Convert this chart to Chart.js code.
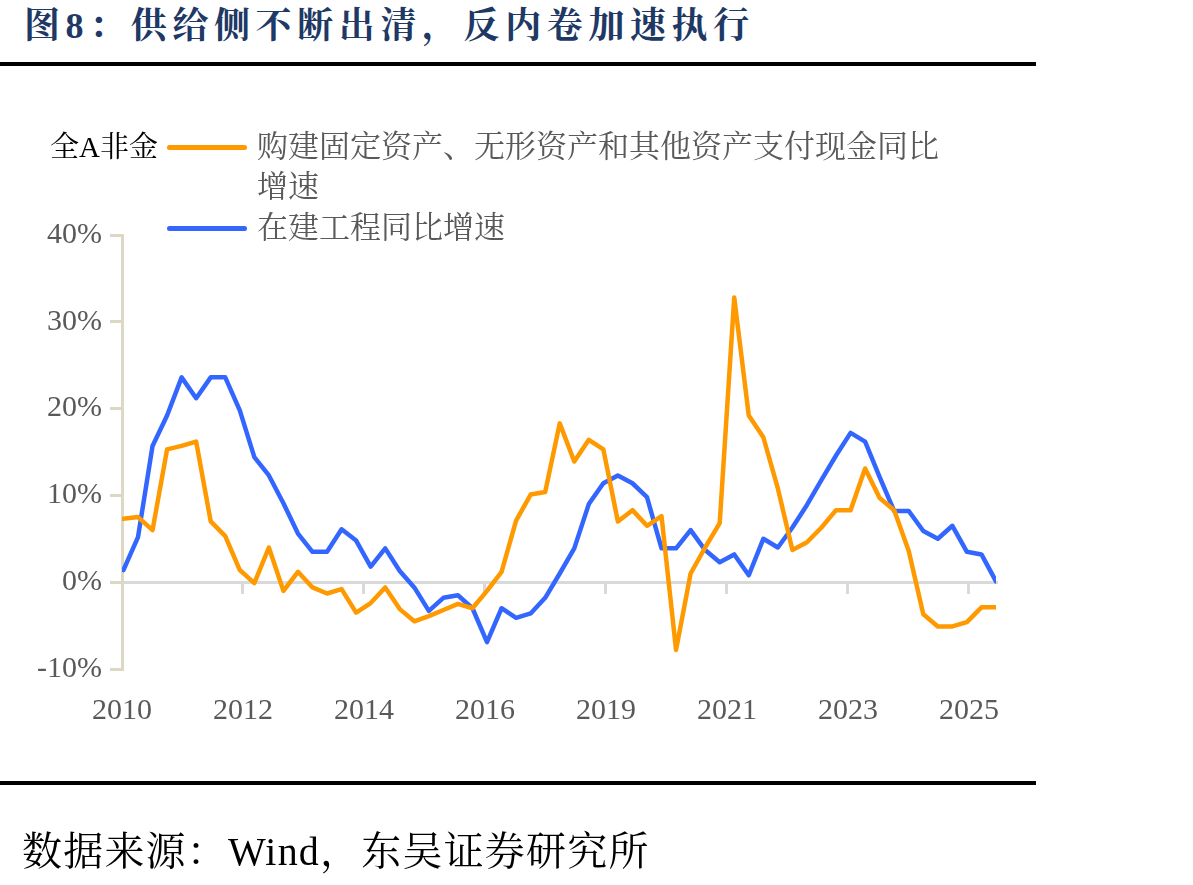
<!DOCTYPE html>
<html>
<head>
<meta charset="utf-8">
<script src="https://cdn.jsdelivr.net/npm/chart.js@4.4.1/dist/chart.umd.min.js"></script>
<style>
  body { margin: 0; background: #fff; width: 1193px; height: 885px; position: relative; overflow: hidden; }
  #chart { position: absolute; left: 0; top: 0; }
  .title { position: absolute; left: 24px; top: 0; line-height: 52px; font-size: 36px; font-weight: bold; color: #203864;
           letter-spacing: 5.6px; white-space: nowrap; font-family: "Liberation Serif", "Noto Serif CJK SC", "Noto Sans CJK SC", serif; }
  .rule { position: absolute; left: 0; width: 1036px; height: 4px; background: #000; }
  .source { position: absolute; left: 22px; top: 830px; line-height: 44px; font-size: 40px; color: #000; letter-spacing: 1.2px;
            white-space: nowrap; font-family: "Liberation Serif", "Noto Serif CJK SC", "Noto Sans CJK SC", serif; }
  .legend { position: absolute; font-family: "Liberation Serif", "Noto Serif CJK SC", "Noto Sans CJK SC", serif; font-size: 31px; line-height: 40px; }
  .group { position: absolute; left: 50px; top: 127px; color: #000; font-size: 29px; white-space: nowrap; }
  .item { position: absolute; left: 167px; width: 785px; color: #595959; }
  .item .swatch { position: absolute; left: 0; top: 18px; width: 80px; height: 5px; border-radius: 3px; }
  .item .text { margin-left: 90px; }
</style>
</head>
<body>
<div class="title">图8：供给侧不断出清，反内卷加速执行</div>
<div class="rule" style="top:62px"></div>
<canvas id="chart" width="1193" height="885"></canvas>
<div class="legend" id="legend"></div>
<div class="rule" style="top:781px"></div>
<div class="source">数据来源：Wind，东吴证券研究所</div>
<script>
// quarterly, 2010Q2 - 2025Q2
const quarters = [
  '2010Q2','2010Q3','2010Q4',
  '2011Q1','2011Q2','2011Q3','2011Q4',
  '2012Q1','2012Q2','2012Q3','2012Q4',
  '2013Q1','2013Q2','2013Q3','2013Q4',
  '2014Q1','2014Q2','2014Q3','2014Q4',
  '2015Q1','2015Q2','2015Q3','2015Q4',
  '2016Q1','2016Q2','2016Q3','2016Q4',
  '2017Q1','2017Q2','2017Q3','2017Q4',
  '2018Q1','2018Q2','2018Q3','2018Q4',
  '2019Q1','2019Q2','2019Q3','2019Q4',
  '2020Q1','2020Q2','2020Q3','2020Q4',
  '2021Q1','2021Q2','2021Q3','2021Q4',
  '2022Q1','2022Q2','2022Q3','2022Q4',
  '2023Q1','2023Q2','2023Q3','2023Q4',
  '2024Q1','2024Q2','2024Q3','2024Q4',
  '2025Q1','2025Q2'
];

// 购建固定资产、无形资产和其他资产支付现金同比增速 (%)
const capexGrowth = [
  7.3, 7.5, 6.0, 15.3, 15.7, 16.2, 7.0, 5.3, 1.4, -0.1,
  4.0, -1.0, 1.2, -0.6, -1.3, -0.8, -3.5, -2.4, -0.6, -3.1,
  -4.5, -3.9, -3.2, -2.5, -3.0, -1.0, 1.2, 7.1, 10.1, 10.4,
  18.3, 13.9, 16.4, 15.3, 7.0, 8.3, 6.5, 7.6, -7.8, 1.0,
  4.0, 6.8, 32.8, 19.2, 16.7, 10.8, 3.7, 4.6, 6.3, 8.3,
  8.3, 13.1, 9.7, 8.3, 3.6, -3.7, -5.1, -5.1, -4.6, -2.9,
  -2.9
];

// 在建工程同比增速 (%)
const cipGrowth = [
  1.4, 5.2, 15.7, 19.2, 23.6, 21.2, 23.6, 23.6, 19.8, 14.4,
  12.3, 9.1, 5.6, 3.5, 3.5, 6.1, 4.8, 1.8, 3.9, 1.3,
  -0.6, -3.3, -1.8, -1.5, -3.0, -6.9, -3.0, -4.1, -3.6, -1.8,
  1.0, 3.9, 9.0, 11.4, 12.3, 11.4, 9.8, 3.9, 3.9, 6.0,
  3.7, 2.3, 3.2, 0.8, 5.0, 4.0, 6.3, 8.9, 11.8, 14.6,
  17.2, 16.2, 12.1, 8.2, 8.2, 5.9, 5.0, 6.5, 3.5, 3.2,
  0.1
];

const yearTicks = ['2010', '2012', '2014', '2016', '2019', '2021', '2023', '2025'];

const groupLabel = '全A非金';
const seriesNames = ['购建固定资产、无形资产和其他资产支付现金同比增速', '在建工程同比增速'];
const seriesColors = ['#ff9900', '#3366ff'];

const X_MIN = -0.1;
const X_MAX = quarters.length - 1;
const TICK_STEP = 8.32;
const AXIS_BEIGE = '#ddd8c4';
const ZERO_GRAY = '#d9d9d9';
const LABEL_GRAY = '#595959';
const tickFont = { family: '"Liberation Serif", serif', size: 30 };

function placeYearTicks(scale) {
  scale.ticks = yearTicks.map((_, k) => ({ value: X_MIN + k * TICK_STEP }));
}

function toPoints(values) {
  return values.map((v, i) => ({ x: i, y: v }));
}

const chart = new Chart(document.getElementById('chart'), {
  type: 'line',
  data: {
    datasets: [
      {
        label: seriesNames[0],
        data: toPoints(capexGrowth),
        borderColor: seriesColors[0],
        backgroundColor: seriesColors[0],
        borderWidth: 4.5,
        pointRadius: 0,
        borderJoinStyle: 'round',
        borderCapStyle: 'round'
      },
      {
        label: seriesNames[1],
        data: toPoints(cipGrowth),
        borderColor: seriesColors[1],
        backgroundColor: seriesColors[1],
        borderWidth: 4.5,
        pointRadius: 0,
        borderJoinStyle: 'round',
        borderCapStyle: 'round'
      }
    ]
  },
  options: {
    responsive: false,
    animation: false,
    layout: { padding: { left: 0, top: 235, right: 197, bottom: 0 } },
    plugins: {
      legend: { display: false },
      tooltip: {
        callbacks: {
          title: items => quarters[items[0].parsed.x],
          label: item => item.dataset.label + ': ' + item.parsed.y + '%'
        }
      }
    },
    scales: {
      x: {
        type: 'linear',
        min: X_MIN,
        max: X_MAX,
        position: { y: 0 },
        afterBuildTicks: placeYearTicks,
        ticks: { display: false },
        grid: { drawOnChartArea: false, drawTicks: true, tickLength: 10, color: ZERO_GRAY, lineWidth: 3 },
        border: { color: ZERO_GRAY, width: 3 }
      },
      x2: {
        type: 'linear',
        axis: 'x',
        position: 'bottom',
        min: X_MIN,
        max: X_MAX,
        afterBuildTicks: placeYearTicks,
        grid: { display: false, drawTicks: false },
        border: { display: false },
        ticks: {
          padding: 24,
          color: LABEL_GRAY,
          font: tickFont,
          maxRotation: 0,
          autoSkip: false,
          callback: (v, i) => yearTicks[i]
        },
        afterFit: s => { s.height = 885 - 669; s.paddingLeft = 0; s.paddingRight = 0; }
      },
      y: {
        min: -10,
        max: 40,
        ticks: { stepSize: 10, padding: 8, color: LABEL_GRAY, font: tickFont, callback: v => v + '%' },
        grid: { drawOnChartArea: false, tickLength: 12, color: AXIS_BEIGE, lineWidth: 3 },
        border: { color: AXIS_BEIGE, width: 3 },
        afterFit: s => { s.width = 122; s.paddingTop = 0; s.paddingBottom = 0; }
      }
    }
  }
});

// html legend built from the datasets
const legend = document.getElementById('legend');
const group = document.createElement('div');
group.className = 'group';
group.textContent = groupLabel;
legend.appendChild(group);
const rowTops = [127, 208];
chart.data.datasets.forEach((ds, i) => {
  const item = document.createElement('div');
  item.className = 'item';
  item.style.top = rowTops[i] + 'px';
  const sw = document.createElement('span');
  sw.className = 'swatch';
  sw.style.background = ds.borderColor;
  const tx = document.createElement('div');
  tx.className = 'text';
  tx.textContent = ds.label;
  item.appendChild(sw);
  item.appendChild(tx);
  legend.appendChild(item);
});
</script>
</body>
</html>
